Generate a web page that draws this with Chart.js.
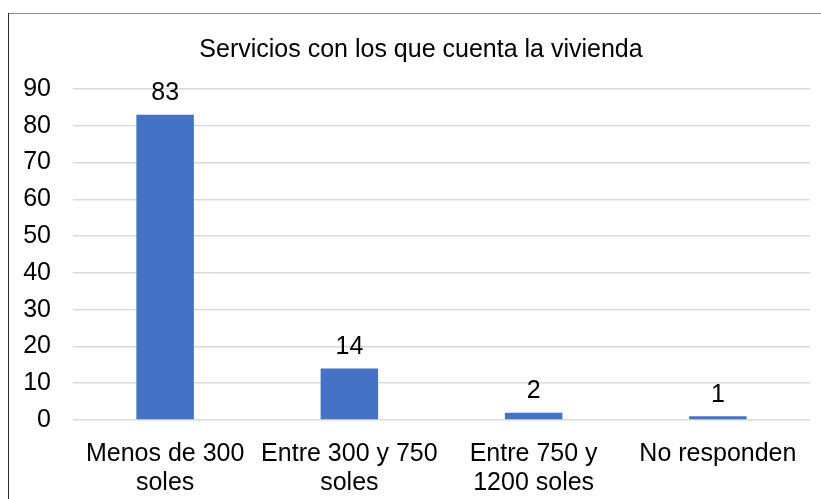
<!DOCTYPE html>
<html>
<head>
<meta charset="utf-8">
<script src="https://cdn.jsdelivr.net/npm/chart.js@4"></script>
<style>
    html, body { margin: 0; padding: 0; background: #fff; }
    #wrap { position: relative; width: 821px; height: 499px; }
</style>
</head>
<body>
<div id="wrap"><canvas id="ingresosChart" width="821" height="499"></canvas></div>
<script>
// Chart data
const categories = [['Menos de 300', 'soles'], ['Entre 300 y 750', 'soles'], ['Entre 750 y', '1200 soles'], ['No responden']];
const valores = [83, 14, 2, 1];
const yTicks = [0, 10, 20, 30, 40, 50, 60, 70, 80, 90];
const chartTitle = 'Servicios con los que cuenta la vivienda';

const FONT = "'Liberation Sans', Arial, sans-serif";

// Frame lines, title (frame is wider than the picture, so title sits right of centre) + value labels
const framePlugin = {
    id: 'frame',
    beforeDraw(chart) {
        const c = chart.ctx;
        c.save();
        c.lineWidth = 1;
        c.strokeStyle = '#8c8c8c';
        c.beginPath(); c.moveTo(8, 13.5); c.lineTo(821, 13.5); c.stroke();
        c.strokeStyle = '#2b2b2b';
        c.beginPath(); c.moveTo(8.5, 13); c.lineTo(8.5, 499); c.stroke();

        c.font = '25px ' + FONT;
        c.fillStyle = '#000';
        c.textAlign = 'center';
        c.textBaseline = 'alphabetic';
        c.fillText(chartTitle, 421, 57);
        c.restore();
    },
    afterDatasetsDraw(chart) {
        const c = chart.ctx;
        const meta = chart.getDatasetMeta(0);
        c.save();
        c.font = '25px ' + FONT;
        c.fillStyle = '#000';
        c.textAlign = 'center';
        c.textBaseline = 'alphabetic';
        meta.data.forEach((bar, i) => {
            c.fillText(String(valores[i]), bar.x, bar.y - 14.5);
        });
        c.restore();
    }
};

const ctx = document.getElementById('ingresosChart').getContext('2d');
new Chart(ctx, {
    type: 'bar',
    data: {
        labels: categories,
        datasets: [{
            data: valores,
            backgroundColor: '#4472c4',
            categoryPercentage: 1,
            barPercentage: 0.312
        }]
    },
    options: {
        responsive: false,
        animation: false,
        layout: { padding: { left: 0, right: 11, top: 89, bottom: 0 } },
        plugins: {
            legend: { display: false },
            tooltip: { enabled: false },
            title: { display: false }
        },
        scales: {
            x: {
                grid: { display: false },
                border: { display: false },
                ticks: {
                    color: '#000',
                    font: { family: FONT, size: 25, lineHeight: 1.15 },
                    padding: 12,
                    maxRotation: 0,
                    autoSkip: false
                },
                afterFit: s => { s.height = 79; }
            },
            y: {
                min: 0,
                max: 90,
                afterBuildTicks: s => { s.ticks = yTicks.map(v => ({ value: v })); },
                grid: { color: '#d9d9d9', lineWidth: 1.5, drawTicks: false },
                border: { display: false },
                ticks: {
                    color: '#000',
                    font: { family: FONT, size: 25 },
                    padding: 22
                },
                afterFit: s => { s.width = 73; }
            }
        }
    },
    plugins: [framePlugin]
});
</script>
</body>
</html>
